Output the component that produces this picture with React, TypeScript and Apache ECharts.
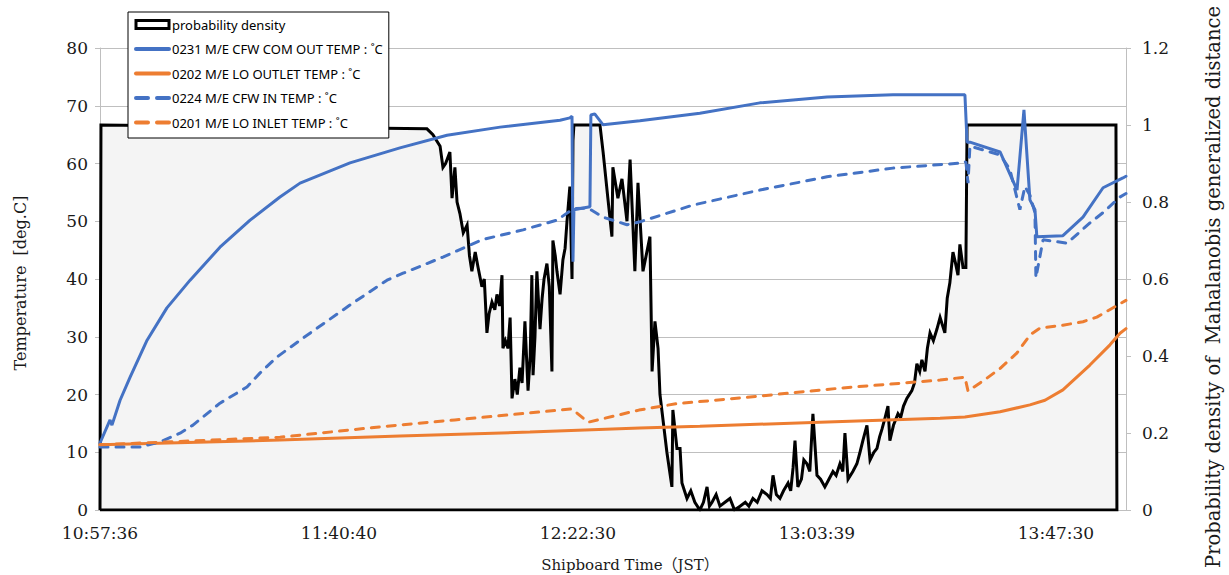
import React, { useEffect, useRef } from "react";
import * as echarts from "echarts";

// x = sample index (one tick label every 1000 samples)
const xTickIndex = [0, 1000, 2000, 3000, 4000];
const xTickLabels = ["10:57:36", "11:40:40", "12:22:30", "13:03:39", "13:47:30"];
const xMaxIndex = 4293;

const tempTicks = [0, 80, 10];
const densityTicks = [0, 1.2, 0.2];

const nameDensity = "probability density";
const nameCfwOut = "0231 M/E CFW COM OUT TEMP : ˚C";
const nameLoOut = "0202 M/E LO OUTLET TEMP : ˚C";
const nameCfwIn = "0224 M/E CFW IN TEMP : ˚C";
const nameLoIn = "0201 M/E LO INLET TEMP : ˚C";

const cfwOut = [
  [0, 11.6], [42, 15.6], [50, 14.7], [84, 19], [126, 23], [197, 29.4], [280, 35], [377, 39.8],
  [502, 45.5], [628, 50.2], [753, 54.2], [837, 56.6], [1046, 60.1], [1255, 62.7], [1452, 64.9],
  [1674, 66.3], [1925, 67.5], [1966, 67.9], [1975, 68.2], [1979, 43], [1983, 52], [2050, 52.5],
  [2054, 68.4], [2070, 68.6], [2105, 66.7], [2259, 67.4], [2510, 68.7], [2761, 70.5], [3042, 71.5],
  [3318, 71.9], [3619, 71.9], [3628, 63.7], [3640, 63.7], [3766, 62.0], [3837, 55.4], [3866, 69.3],
  [3891, 53.7], [3912, 52.0], [3920, 47.3], [4029, 47.5], [4113, 50.7], [4197, 55.8], [4280, 57.5],
  [4293, 57.8],
];

const cfwIn = [
  [0, 10.9], [167, 10.9], [251, 11.8], [335, 13.3], [389, 14.7], [502, 18.5], [615, 21.3],
  [669, 23.7], [741, 26.5], [837, 29.4], [1046, 35.5], [1201, 39.8], [1268, 41], [1435, 43.8],
  [1598, 46.8], [1770, 48.5], [1912, 50.2], [1975, 52], [1983, 52.2], [2042, 52.3], [2105, 50.7],
  [2205, 49.4], [2259, 49.9], [2481, 52.8], [2761, 55.4], [3042, 57.7], [3318, 59.2], [3611, 60.1],
  [3623, 60.3], [3632, 56.6], [3640, 63.0], [3766, 61.5], [3807, 59], [3849, 52], [3870, 56],
  [3891, 54.5], [3912, 51.5], [3916, 40.2], [3946, 46.8], [4046, 46.2], [4142, 49.7], [4197, 51.5],
  [4268, 54.2], [4293, 54.8],
];

const loOut = [
  [0, 11.3], [753, 12.1], [1255, 12.8], [1799, 13.5], [2259, 14.2], [2510, 14.5], [3012, 15.2],
  [3515, 15.9], [3619, 16.1], [3766, 17.0], [3891, 18.2], [3954, 19.0], [4029, 20.8], [4142, 25.1],
  [4226, 28.6], [4268, 30.6], [4293, 31.4],
];

const loIn = [
  [0, 11.3], [753, 12.6], [1172, 14.4], [1485, 15.6], [1795, 16.8], [1975, 17.5], [2042, 15.2],
  [2255, 17.3], [2410, 18.4], [2678, 19.4], [3096, 21.1], [3515, 22.5], [3619, 23.0], [3632, 20.6],
  [3700, 22.5], [3766, 24.5], [3837, 27.2], [3891, 30.3], [3933, 31.5], [4029, 32.0], [4113, 32.6],
  [4171, 33.4], [4259, 35.5], [4293, 36.3],
];

const density = [
  [0, 0], [4, 1], [1368, 0.99], [1393, 0.975], [1423, 0.945], [1435, 0.89], [1446, 0.9], [1464, 0.93],
  [1473, 0.81], [1485, 0.89], [1494, 0.8], [1506, 0.77], [1520, 0.72], [1536, 0.74], [1546, 0.66],
  [1556, 0.62], [1570, 0.67], [1582, 0.63], [1598, 0.58], [1608, 0.6], [1619, 0.46], [1628, 0.51],
  [1640, 0.54], [1652, 0.52], [1661, 0.56], [1672, 0.53], [1682, 0.61], [1686, 0.42], [1696, 0.44],
  [1707, 0.42], [1716, 0.5], [1724, 0.29], [1736, 0.34], [1746, 0.3], [1757, 0.37], [1766, 0.33],
  [1778, 0.49], [1791, 0.31], [1800, 0.4], [1807, 0.61], [1812, 0.35], [1820, 0.45], [1828, 0.62],
  [1841, 0.47], [1850, 0.55], [1858, 0.6], [1870, 0.64], [1880, 0.58], [1891, 0.36], [1895, 0.7],
  [1905, 0.66], [1912, 0.62], [1925, 0.56], [1937, 0.65], [1946, 0.68], [1954, 0.75], [1966, 0.84],
  [1975, 0.6], [1979, 0.96], [1983, 1], [2092, 1], [2105, 0.93], [2125, 0.81], [2142, 0.71],
  [2146, 0.89], [2167, 0.81], [2184, 0.86], [2205, 0.75], [2218, 0.91], [2238, 0.62], [2251, 0.85],
  [2272, 0.62], [2301, 0.71], [2310, 0.36], [2322, 0.49], [2335, 0.42], [2343, 0.3], [2372, 0.15],
  [2393, 0.06], [2397, 0.26], [2414, 0.16], [2427, 0.16], [2435, 0.07], [2456, 0.03], [2472, 0.05],
  [2489, 0.02], [2510, 0], [2525, 0.02], [2540, 0.06], [2550, 0.01], [2561, 0.02], [2578, 0.04],
  [2594, 0.01], [2615, 0.02], [2636, 0.03], [2655, 0.0], [2678, 0.01], [2700, 0.02], [2715, 0.01],
  [2732, 0.03], [2750, 0.02], [2770, 0.05], [2791, 0.04], [2805, 0.03], [2816, 0.09], [2830, 0.04],
  [2845, 0.03], [2860, 0.05], [2879, 0.07], [2890, 0.05], [2900, 0.11], [2908, 0.18], [2920, 0.06],
  [2935, 0.08], [2945, 0.13], [2958, 0.12], [2970, 0.1], [2983, 0.25], [3000, 0.09], [3015, 0.08],
  [3033, 0.06], [3050, 0.08], [3067, 0.1], [3080, 0.09], [3096, 0.12], [3108, 0.1], [3117, 0.2],
  [3130, 0.08], [3150, 0.1], [3167, 0.12], [3180, 0.15], [3192, 0.18], [3209, 0.22], [3222, 0.13],
  [3238, 0.15], [3251, 0.16], [3262, 0.19], [3272, 0.21], [3285, 0.24], [3297, 0.27], [3305, 0.18],
  [3320, 0.22], [3339, 0.25], [3350, 0.24], [3362, 0.27], [3376, 0.29], [3397, 0.31], [3408, 0.33],
  [3418, 0.38], [3430, 0.36], [3439, 0.39], [3452, 0.36], [3462, 0.42], [3473, 0.46], [3487, 0.44],
  [3502, 0.47], [3515, 0.5], [3535, 0.46], [3545, 0.55], [3556, 0.59], [3569, 0.67], [3580, 0.64],
  [3590, 0.61], [3598, 0.69], [3611, 0.63], [3623, 0.63], [3628, 1], [4251, 1], [4255, 0], [0, 0],
];

const BLUE = "#4472C4";
const ORANGE = "#ED7D31";
const GRID = "#bfbfbf";
const SERIF = '"DejaVu Serif", serif';

export default function App() {
  const ref = useRef<HTMLDivElement>(null);
  useEffect(() => {
    if (!ref.current) return;
    const chart = echarts.init(ref.current, undefined, { renderer: "svg" });
    const lineSeries = (name: string, data: number[][], color: string, dashed: boolean) => ({
      name,
      type: "line",
      data,
      yAxisIndex: 0,
      showSymbol: false,
      symbol: "none",
      z: 3,
      lineStyle: { color, width: 3, type: dashed ? [8, 8] : "solid", cap: "round" },
      itemStyle: { color },
    });
    const hiddenSymbol = { opacity: 0, borderWidth: 0 };
    const legendLine = (color: string, dashed: boolean) => ({
      color,
      width: 4,
      type: dashed ? [12, 9] : "solid",
      cap: "round",
    });
    chart.setOption({
      animation: false,
      backgroundColor: "#ffffff",
      grid: { left: 100, right: 103, top: 48, bottom: 65 },
      legend: {
        orient: "vertical",
        left: 128,
        top: 12,
        padding: [6, 6, 9, 6],
        itemWidth: 33,
        itemHeight: 14,
        itemGap: 11.5,
        backgroundColor: "#ffffff",
        borderColor: "#000000",
        borderWidth: 1,
        textStyle: { fontFamily: '"Noto Sans", sans-serif', fontSize: 13, color: "#000", padding: [0, 0, 0, -2] },
        data: [
          {
            name: nameDensity,
            icon: "path://M0,0 L33,0 L33,8 L0,8 Z",
            itemStyle: { color: "#ffffff", borderColor: "#000000", borderWidth: 3 },
            lineStyle: { width: 0, opacity: 0 },
          },
          { name: nameCfwOut, itemStyle: hiddenSymbol, lineStyle: legendLine(BLUE, false) },
          { name: nameLoOut, itemStyle: hiddenSymbol, lineStyle: legendLine(ORANGE, false) },
          { name: nameCfwIn, itemStyle: hiddenSymbol, lineStyle: legendLine(BLUE, true) },
          { name: nameLoIn, itemStyle: hiddenSymbol, lineStyle: legendLine(ORANGE, true) },
        ],
      },
      xAxis: {
        type: "value",
        min: 0,
        max: xMaxIndex,
        interval: 1000,
        axisLine: { show: true, lineStyle: { color: GRID, width: 1 } },
        axisTick: { show: false },
        splitLine: { show: false },
        axisLabel: {
          margin: 14,
          fontFamily: SERIF,
          fontSize: 17,
          color: "#1a1a1a",
          showMaxLabel: false,
          formatter: (v: number) => {
            const i = xTickIndex.indexOf(Math.round(v));
            return i >= 0 ? xTickLabels[i] : "";
          },
        },
      },
      yAxis: [
        {
          type: "value",
          min: tempTicks[0],
          max: tempTicks[1],
          interval: tempTicks[2],
          axisLine: { show: true, lineStyle: { color: GRID, width: 1 } },
          axisTick: { show: true, length: 5, lineStyle: { color: GRID } },
          splitLine: { show: true, lineStyle: { color: GRID, width: 1 } },
          axisLabel: { margin: 12, fontFamily: SERIF, fontSize: 17, color: "#1a1a1a" },
        },
        {
          type: "value",
          min: densityTicks[0],
          max: densityTicks[1],
          interval: densityTicks[2],
          position: "right",
          axisLine: { show: true, lineStyle: { color: GRID, width: 1 } },
          axisTick: { show: true, length: 5, lineStyle: { color: GRID } },
          splitLine: { show: false },
          axisLabel: { margin: 16, fontFamily: SERIF, fontSize: 17, color: "#1a1a1a" },
        },
      ],
      graphic: [
        {
          type: "text",
          x: 20,
          y: 283,
          rotation: Math.PI / 2,
          style: {
            text: "Temperature  [deg.C]",
            font: '16px "DejaVu Serif", serif',
            fill: "#1a1a1a",
            textAlign: "center",
            textVerticalAlign: "middle",
          },
        },
        {
          type: "text",
          x: 1213,
          y: 287,
          rotation: Math.PI / 2,
          style: {
            text: "Probability density of  Mahalanobis generalized distance",
            font: '19.5px "DejaVu Serif", serif',
            fill: "#1a1a1a",
            textAlign: "center",
            textVerticalAlign: "middle",
          },
        },
        {
          type: "text",
          x: 630,
          y: 565,
          style: {
            text: "Shipboard Time（JST）",
            font: '15px "DejaVu Serif", "Noto Sans CJK JP", serif',
            fill: "#1a1a1a",
            textAlign: "center",
            textVerticalAlign: "middle",
          },
        },
      ],
      series: [
        {
          name: nameDensity,
          type: "line",
          data: density,
          yAxisIndex: 1,
          showSymbol: false,
          symbol: "none",
          z: 2,
          lineStyle: { color: "#000000", width: 3, join: "miter" },
          itemStyle: { color: "#000000" },
          areaStyle: { color: "#f4f4f4", opacity: 1 },
        },
        lineSeries(nameCfwOut, cfwOut, BLUE, false),
        lineSeries(nameLoOut, loOut, ORANGE, false),
        lineSeries(nameCfwIn, cfwIn, BLUE, true),
        lineSeries(nameLoIn, loIn, ORANGE, true),
      ],
    });
    return () => chart.dispose();
  }, []);
  return <div ref={ref} style={{ width: 1229, height: 575, position: "absolute", left: 0, top: 0 }} />;
}
